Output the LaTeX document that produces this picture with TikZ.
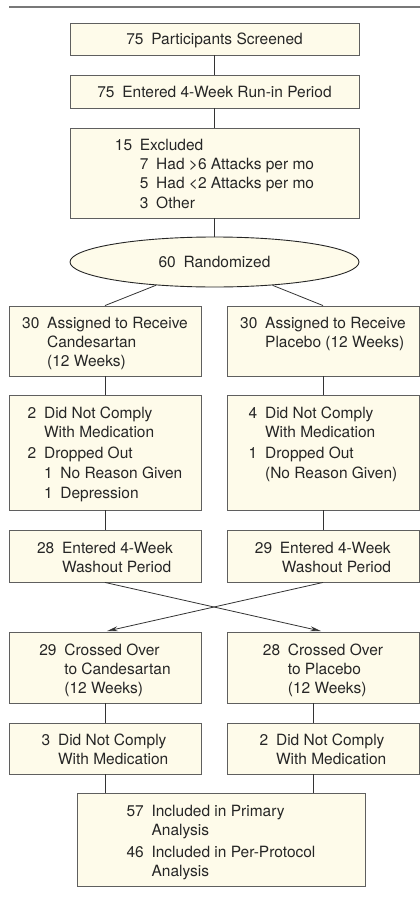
\documentclass[tikz,border=0pt]{standalone}
\usepackage{fontspec}
\setmainfont{TeX Gyre Heros}
\usetikzlibrary{shapes.geometric,arrows.meta,calc}
\definecolor{boxfill}{RGB}{254,251,234}
\definecolor{boxline}{RGB}{95,95,95}
\definecolor{rulecol}{RGB}{120,120,120}
\newcommand{\gp}{\hspace{0.5em}}
\begin{document}
\begin{tikzpicture}[x=1pt,y=-1pt,
  font=\fontsize{15.5}{19}\selectfont,
  box/.style={rectangle, draw=boxline, fill=boxfill, line width=0.9pt, inner sep=0pt},
  oval/.style={ellipse, draw=black!85, fill=boxfill, line width=0.9pt, inner sep=0pt},
  txt/.style={anchor=base, inner sep=0pt, text=black!85},
  link/.style={draw=black!80, line width=0.8pt},
  arr/.style={link, -{Stealth[length=11pt,width=5pt]}, shorten >=2pt}]
\useasboundingbox (0,0) rectangle (420,899);
% top rule
\coordinate (rl) at (9,7);
\coordinate (rr) at (420,7);
\draw[rulecol, line width=1.4pt] (rl) -- (rr);

% boxes
\node[box, minimum width=289pt, minimum height=32pt] (b1) at (214.5,39) {};
\node[box, minimum width=289pt, minimum height=33pt] (b2) at (214.5,91.5) {};
\node[box, minimum width=289pt, minimum height=90pt] (b3) at (214.5,173) {};
\node[oval, minimum width=289pt, minimum height=50pt] (rand) at (214.5,262) {};
\node[box, minimum width=192pt, minimum height=70pt] (aL) at (105,341) {};
\node[box, minimum width=192pt, minimum height=70pt] (aR) at (323,341) {};
\node[box, minimum width=192pt, minimum height=115pt] (bL) at (105,452.5) {};
\node[box, minimum width=192pt, minimum height=115pt] (bR) at (323,452.5) {};
\node[box, minimum width=192pt, minimum height=52pt] (cL) at (105,556) {};
\node[box, minimum width=192pt, minimum height=52pt] (cR) at (323,556) {};
\node[box, minimum width=192pt, minimum height=71pt] (dL) at (105,667.5) {};
\node[box, minimum width=192pt, minimum height=71pt] (dR) at (323,667.5) {};
\node[box, minimum width=192pt, minimum height=51pt] (eL) at (105,748.5) {};
\node[box, minimum width=192pt, minimum height=51pt] (eR) at (323,748.5) {};
\node[box, minimum width=288pt, minimum height=93pt] (f) at (221,839.5) {};

% texts
\node[txt] (t1) at (214.5,45) {75\gp Participants Screened};
\node[txt] (t2) at (214.5,97.5) {75\gp Entered 4-Week Run-in Period};
\node[txt] (t3) at (214.5,150.5) {\begin{tabular}[t]{@{}r@{\gp}l@{}}
15 & Excluded\\
 & 7\gp Had >6 Attacks per mo\\
 & 5\gp Had <2 Attacks per mo\\[0.5pt]
 & 3\gp Other
\end{tabular}};
\node[txt] (rt) at (214.5,267.5) {60\gp Randomized};
\node[txt] (taL) at (105,328.5) {\begin{tabular}[t]{@{}r@{\gp}l@{}}
30 & Assigned to Receive\\
 & Candesartan\\
 & (12 Weeks)
\end{tabular}};
\node[txt] (taR) at (323,328.5) {\begin{tabular}[t]{@{}r@{\gp}l@{}}
30 & Assigned to Receive\\
 & Placebo (12 Weeks)
\end{tabular}};
\node[txt] (tbL) at (105,418.5) {\begin{tabular}[t]{@{}r@{\gp}l@{}}
2 & Did Not Comply\\
 & With Medication\\[1.5pt]
2 & Dropped Out\\[1pt]
 & 1\gp No Reason Given\\[1.5pt]
 & 1\gp Depression
\end{tabular}};
\node[txt] (tbR) at (323,418.5) {\begin{tabular}[t]{@{}r@{\gp}l@{}}
4 & Did Not Comply\\
 & With Medication\\[1.5pt]
1 & Dropped Out\\[1pt]
 & (No Reason Given)
\end{tabular}};
\node[txt] (tcL) at (105,553.5) {\begin{tabular}[t]{@{}r@{\gp}l@{}}
28 & Entered 4-Week\\
 & Washout Period
\end{tabular}};
\node[txt] (tcR) at (323,553.5) {\begin{tabular}[t]{@{}r@{\gp}l@{}}
29 & Entered 4-Week\\
 & \hspace{2pt}Washout Period
\end{tabular}};
\node[txt] (tdL) at (105,655.5) {\begin{tabular}[t]{@{}r@{\gp}l@{}}
29 & Crossed Over\\
 & to Candesartan\\
 & (12 Weeks)
\end{tabular}};
\node[txt] (tdR) at (323,655.5) {\begin{tabular}[t]{@{}r@{\gp}l@{}}
28 & Crossed Over\\
 & to Placebo\\
 & (12 Weeks)
\end{tabular}};
\node[txt] (teL) at (105,745.5) {\begin{tabular}[t]{@{}r@{\gp}l@{}}
3 & Did Not Comply\\
 & With Medication
\end{tabular}};
\node[txt] (teR) at (323,745.5) {\begin{tabular}[t]{@{}r@{\gp}l@{}}
2 & Did Not Comply\\
 & With Medication
\end{tabular}};
\node[txt] (tf) at (221,816.5) {\begin{tabular}[t]{@{}r@{\gp}l@{}}
57 & Included in Primary\\
 & Analysis\\[2.5pt]
46 & Included in Per-Protocol\\
 & Analysis
\end{tabular}};

% connectors
\draw[link] (b1) -- (b2);
\draw[link] (b2) -- (b3);
\draw[link] (b3) -- (rand);
\draw[link] (aL.north) -- (rand);
\draw[link] (aR.north) -- (rand);
\draw[link] (aL) -- (bL);
\draw[link] (aR) -- (bR);
\draw[link] (bL) -- (cL);
\draw[link] (bR) -- (cR);
\draw[arr] (cL.south) -- (dR.north);
\draw[arr] (cR.south) -- (dL.north);
\coordinate (dRs) at ([xshift=-10pt]dR.south);
\coordinate (eRn) at ([xshift=-10pt]eR.north);
\coordinate (eRs) at ([xshift=-10pt]eR.south);
\draw[link] (dL) -- (eL);
\draw[link] (dRs) -- (eRn);
\draw[link] (eL.south) -- (eL.south |- f.north);
\draw[link] (eRs) -- (eRs |- f.north);
\end{tikzpicture}
\end{document}
